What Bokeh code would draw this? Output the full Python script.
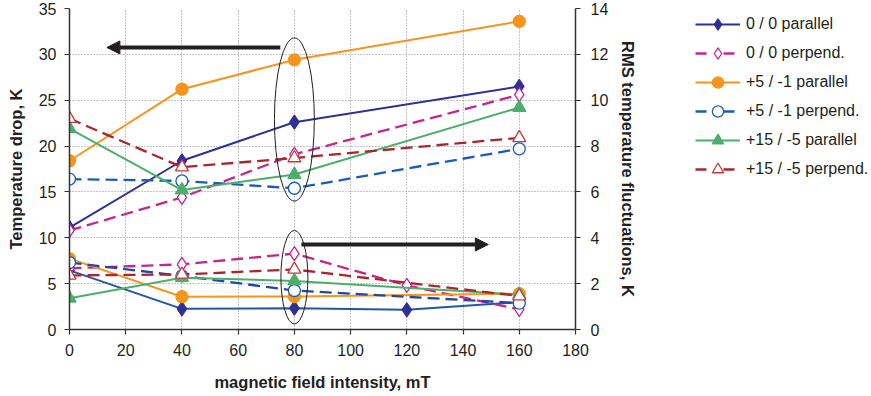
from bokeh.plotting import figure
from bokeh.layouts import row
from bokeh.models import (Range1d, LinearAxis, Legend, LegendItem, Arrow, NormalHead,
                          FixedTicker)
from bokeh.embed import file_html
from bokeh.resources import INLINE

# ---------------- data ----------------
field = [0, 40, 80, 160]            # mT
field_fine = [0, 40, 80, 120, 160]  # mT (series with a point at 120)

x_ticks = [0, 20, 40, 60, 80, 100, 120, 140, 160, 180]
left_ticks = [0, 5, 10, 15, 20, 25, 30, 35]
right_ticks = [0, 2, 4, 6, 8, 10, 12, 14]

labels = ["0 / 0 parallel", "0 / 0 perpend.", "+5 / -1 parallel",
          "+5 / -1 perpend.", "+15 / -5 parallel", "+15 / -5 perpend."]

# Temperature drop, K (left axis)
drop_00_par = [11.1, 18.4, 22.6, 26.5]
drop_00_perp = [10.8, 14.4, 19.1, 25.6]
drop_51_par = [18.4, 26.2, 29.4, 33.6]
drop_51_perp = [16.4, 16.2, 15.4, 19.7]
drop_155_par = [21.9, 15.2, 16.9, 24.2]
drop_155_perp = [23.0, 17.7, 18.7, 20.9]

# RMS temperature fluctuations, K (right axis)
rms_00_par = [2.58, 0.90, 0.93, 0.86, 1.19]
rms_00_perp = [2.67, 2.84, 3.31, 1.92, 0.88]
rms_51_par = [3.09, 1.43, 1.44, 1.56]
rms_51_perp = [2.92, 2.34, 1.70, 1.15]
rms_155_par = [1.36, 2.26, 2.12, 1.52]
rms_155_perp = [2.36, 2.40, 2.62, 1.46]

# ---------------- figure ----------------
FONT = "Liberation Sans"
TXT = "#231F20"
AX = "#333333"

p = figure(width=640, height=396, output_backend="svg", toolbar_location=None,
           x_range=Range1d(0, 180), y_range=Range1d(0, 35),
           min_border_left=69, min_border_right=65, min_border_top=8,
           min_border_bottom=67)
p.extra_y_ranges = {"rms": Range1d(0, 14)}
p.outline_line_color = None
p.background_fill_color = "white"
p.border_fill_color = "white"


def style_axis(ax, standoff, label_standoff):
    ax.major_tick_in = 0
    ax.major_tick_out = 5
    ax.minor_tick_line_color = None
    ax.axis_line_color = AX
    ax.axis_line_width = 1.5
    ax.major_tick_line_color = AX
    ax.major_tick_line_width = 1.2
    ax.major_label_text_font = FONT
    ax.major_label_text_font_size = "16px"
    ax.major_label_text_color = TXT
    ax.major_label_standoff = standoff
    ax.axis_label_text_font = FONT
    ax.axis_label_text_font_size = "16.5px"
    ax.axis_label_text_font_style = "bold"
    ax.axis_label_text_color = TXT
    ax.axis_label_standoff = label_standoff


p.xaxis[0].ticker = FixedTicker(ticks=x_ticks)
p.yaxis[0].ticker = FixedTicker(ticks=left_ticks)
p.xaxis[0].axis_label = "magnetic field intensity, mT"
p.yaxis[0].axis_label = "Temperature drop, K"
style_axis(p.xaxis[0], 9, 14)
style_axis(p.yaxis[0], 8, 11)

right = LinearAxis(y_range_name="rms", ticker=FixedTicker(ticks=right_ticks),
                   axis_label="RMS temperature fluctuations, K")
style_axis(right, 10, 8)
p.add_layout(right, "right")

for g in [p.xgrid[0], p.ygrid[0]]:
    g.grid_line_color = "#8a8a8a"
    g.grid_line_dash = "1 2"
    g.grid_line_width = 1
p.xgrid[0].ticker = FixedTicker(ticks=x_ticks[1:])
p.ygrid[0].ticker = FixedTicker(ticks=left_ticks[1:])

# ---------------- legend figure ----------------
lg = figure(width=230, height=396, output_backend="svg", toolbar_location=None,
            x_range=Range1d(0, 1), y_range=Range1d(0, 1),
            x_axis_type=None, y_axis_type=None,
            min_border_left=0, min_border_right=0, min_border_top=0,
            min_border_bottom=0)
lg.outline_line_color = None
lg.xgrid.visible = False
lg.ygrid.visible = False
lg.background_fill_color = "white"
lg.border_fill_color = "white"

# ---------------- series ----------------
DASH = "12 6"
series = [
    # label, upper y, lower x, lower y, line color, lower line color, dash, marker, size, fill
    (labels[0], drop_00_par, field_fine, rms_00_par, "#2E3192", "#2356A8", "solid", "diamond", 14, "#2E3192"),
    (labels[1], drop_00_perp, field_fine, rms_00_perp, "#C4268F", "#C4268F", DASH, "diamond", 14, "white"),
    (labels[2], drop_51_par, field, rms_51_par, "#F7941D", "#F7941D", "solid", "circle", 12, "#F7941D"),
    (labels[3], drop_51_perp, field, rms_51_perp, "#1B5CB5", "#24489F", DASH, "circle", 12, "white"),
    (labels[4], drop_155_par, field, rms_155_par, "#4DAE6C", "#4DAE6C", "solid", "triangle", 13, "#4DAE6C"),
    (labels[5], drop_155_perp, field, rms_155_perp, "#A8262E", "#A8262E", DASH, "triangle", 13, "white"),
]

items = []
for (lab, up_y, lo_x, lo_y, col, lcol, dash, mk, sz, fill) in series:
    mcol = "#C43A3A" if (mk == "triangle" and fill == "white") else col
    lw = 2 if dash == "solid" else 2.3
    p.line(field, up_y, line_color=col, line_width=lw, line_dash=dash)
    p.scatter(field, up_y, marker=mk, size=sz, fill_color=fill,
              line_color=mcol, line_width=1.3)
    p.line(lo_x, lo_y, y_range_name="rms", line_color=lcol, line_width=lw,
           line_dash=dash)
    p.scatter(lo_x, lo_y, y_range_name="rms", marker=mk, size=sz,
              fill_color=fill, line_color=mcol, line_width=1.3)
    # legend proxies in the legend panel (placed outside its visible range)
    gl = lg.line([5], [5], line_color=col, line_width=lw, line_dash="11 17" if dash != "solid" else "solid")
    gs = lg.scatter([5], [5], marker=mk, size=sz, fill_color=fill,
                    line_color=mcol, line_width=1.3)
    items.append(LegendItem(label=lab, renderers=[gl, gs]))

# ---------------- annotations ----------------
p.ellipse(x=80, y=22.9, width=14.2, height=17.8, fill_color=None,
          line_color="#231F20", line_width=1)
p.ellipse(x=80, y=5.7, width=9.6, height=10.2, fill_color=None,
          line_color="#231F20", line_width=1)

p.add_layout(Arrow(end=NormalHead(size=13, fill_color="#231F20", line_color="#231F20"),
                   x_start=75, y_start=30.75, x_end=13.3, y_end=30.75,
                   line_width=4, line_color="#231F20"))
p.add_layout(Arrow(end=NormalHead(size=13, fill_color="#231F20", line_color="#231F20"),
                   x_start=82.5, y_start=9.27, x_end=149, y_end=9.27,
                   line_width=4, line_color="#231F20"))

legend = Legend(items=items, location=(55, 146), orientation="vertical",
                glyph_width=45, glyph_height=28, label_height=28,
                label_standoff=6, spacing=1, padding=0, margin=0,
                border_line_color=None, background_fill_alpha=0,
                label_text_font=FONT, label_text_font_size="16px",
                label_text_color=TXT)
lg.add_layout(legend, "center")

layout = row(p, lg, spacing=0)
open("out.html", "w").write(file_html(layout, INLINE))
